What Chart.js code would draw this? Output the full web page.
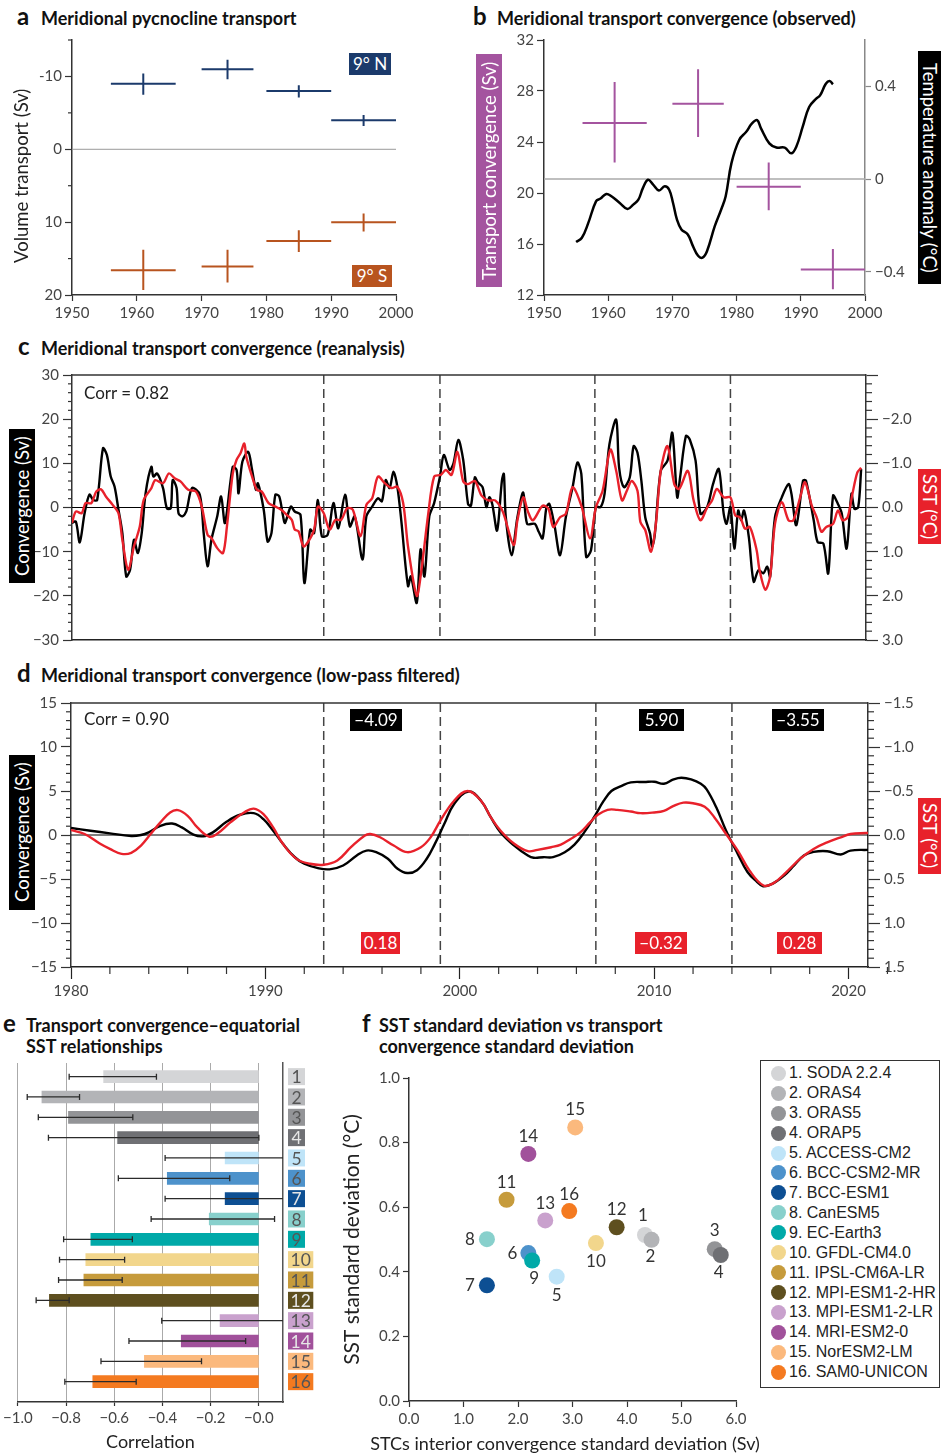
<!DOCTYPE html>
<html>
<head>
<meta charset="utf-8">
<title>STC convergence and equatorial SST</title>
<script src="https://cdn.jsdelivr.net/npm/chart.js"></script>
<style>
  body { margin: 0; background: #fff; font-family: Lato, sans-serif; color: #222; }
  #page { position: relative; width: 941px; height: 1454px; overflow: hidden; }
  canvas { position: absolute; }
  .t { position: absolute; font-weight: 700; font-size: 18px; line-height: 21px; color: #111; white-space: nowrap; }
  .l { position: absolute; font-weight: 700; font-size: 24px; line-height: 26px; color: #111; }
  .vt { position: absolute; font-size: 18.5px; writing-mode: vertical-rl; display: flex; align-items: center; justify-content: center; white-space: nowrap; }
  .up { transform: rotate(180deg); }
  .tag { position: absolute; color: #fff; font-size: 17px; line-height: 22px; height: 22px; text-align: center; }
  .corr { position: absolute; font-size: 17px; color: #222; }
  .xt { position: absolute; font-size: 18px; line-height: 22px; color: #222; text-align: center; white-space: nowrap; }
  #legend { position: absolute; left: 760px; top: 1060px; width: 178px; height: 326px; border: 1px solid #333; }
  .li { position: absolute; left: 28px; font-family: 'Liberation Sans', Arial, sans-serif; font-size: 16px; line-height: 18px; color: #222; white-space: nowrap; }
  .dot { position: absolute; left: 10px; width: 15px; height: 15px; border-radius: 50%; }
</style>
</head>
<body>
<div id="page">
  <div class="l" style="left:17px;top:3px">a</div>
  <div class="t" style="left:41px;top:8px">Meridional pycnocline transport</div>
  <div class="l" style="left:473px;top:3px">b</div>
  <div class="t" style="left:497px;top:8px">Meridional transport convergence (observed)</div>
  <div class="l" style="left:18px;top:333px">c</div>
  <div class="t" style="left:41px;top:338px">Meridional transport convergence (reanalysis)</div>
  <div class="l" style="left:17px;top:660px">d</div>
  <div class="t" style="left:41px;top:665px">Meridional transport convergence (low-pass filtered)</div>
  <div class="l" style="left:3px;top:1010px">e</div>
  <div class="t" style="left:26px;top:1015px">Transport convergence–equatorial<br>SST relationships</div>
  <div class="l" style="left:362px;top:1010px">f</div>
  <div class="t" style="left:379px;top:1015px">SST standard deviation vs transport<br>convergence standard deviation</div>

  <canvas id="ca" width="470" height="330" style="left:0;top:0"></canvas>
  <canvas id="cb" width="471" height="330" style="left:470px;top:0"></canvas>
  <canvas id="cc" width="941" height="300" style="left:0;top:360px"></canvas>
  <canvas id="cd" width="941" height="320" style="left:0;top:690px"></canvas>
  <canvas id="ce" width="330" height="399" style="left:0;top:1055px"></canvas>
  <canvas id="cf" width="430" height="399" style="left:330px;top:1055px"></canvas>

  <div class="vt up" style="left:8px;top:88px;width:26px;height:176px;color:#222">Volume transport (Sv)</div>
  <div class="tag" style="left:349px;top:53px;width:42px;background:#1b3a6b">9° N</div>
  <div class="tag" style="left:352px;top:265px;width:40px;background:#b8541f">9° S</div>

  <div class="vt up" style="left:476px;top:54px;width:26px;height:233px;color:#fff;background:#a4549f">Transport convergence (Sv)</div>
  <div class="vt" style="left:918px;top:51px;width:23px;height:233px;color:#fff;background:#000">Temperature anomaly (°C)</div>

  <div class="vt up" style="left:9px;top:429px;width:26px;height:154px;color:#fff;background:#000">Convergence (Sv)</div>
  <div class="vt" style="left:918px;top:469px;width:23px;height:75px;color:#fff;background:#e8212b">SST (°C)</div>
  <div class="corr" style="left:84px;top:382px">Corr = 0.82</div>

  <div class="vt up" style="left:9px;top:755px;width:26px;height:155px;color:#fff;background:#000">Convergence (Sv)</div>
  <div class="vt" style="left:918px;top:798px;width:23px;height:76px;color:#fff;background:#e8212b">SST (°C)</div>
  <div class="corr" style="left:84px;top:708px">Corr = 0.90</div>
  <div class="tag" style="left:350px;top:709px;width:52px;background:#000">−4.09</div>
  <div class="tag" style="left:639px;top:709px;width:45px;background:#000">5.90</div>
  <div class="tag" style="left:772px;top:709px;width:52px;background:#000">−3.55</div>
  <div class="tag" style="left:361px;top:932px;width:39px;background:#e8212b">0.18</div>
  <div class="tag" style="left:635px;top:932px;width:52px;background:#e8212b">−0.32</div>
  <div class="tag" style="left:777px;top:932px;width:45px;background:#e8212b">0.28</div>

  <div class="xt" style="left:345px;top:1432px;width:440px">STCs interior convergence standard deviation (Sv)</div>
  <div id="legend"></div>
</div>
<script>
// ---- panel a : decadal pycnocline transport at 9N / 9S
const periodStart = [1956, 1970, 1980, 1990];
const periodEnd = [1966, 1978, 1990, 2000];
const southEnd = [1966, 1978, 1990, 2000.5];
const periodMid = [1961, 1974, 1985, 1995];
const northValue = [-9.0, -11.0, -8.0, -4.0];
const northLow = [-10.4, -12.3, -8.8, -4.7];
const northHigh = [-7.5, -9.6, -7.1, -3.2];
const southValue = [16.6, 16.1, 12.6, 10.0];
const southLow = [13.8, 13.8, 11.1, 8.8];
const southHigh = [19.3, 18.3, 14.1, 11.3];

// ---- panel b : observed convergence (crosses) and temperature anomaly
const convObsValue = [25.5, 27.0, 20.5, 14.0];
const convObsLow = [22.4, 24.4, 18.65, 12.45];
const convObsHigh = [28.7, 29.7, 22.4, 15.6];
const tempYears = [1955.0, 1955.9, 1956.9, 1958.1, 1958.8, 1959.7, 1960.5, 1961.8, 1963.0, 1963.9,
  1964.7, 1965.4, 1966.2, 1967.0, 1967.9, 1968.8, 1969.5, 1970.1, 1970.7, 1971.4,
  1972.4, 1973.2, 1974.0, 1974.7, 1975.4, 1976.6, 1977.6, 1978.3, 1979.2, 1980.4,
  1981.5, 1982.4, 1983.2, 1983.8, 1985.1, 1986.2, 1987.5, 1988.5, 1989.3, 1990.3,
  1991.3, 1992.4, 1993.0, 1993.9, 1994.5, 1995.0];
const tempAnomaly = [-0.271, -0.253, -0.189, -0.096, -0.084, -0.064, -0.074, -0.103, -0.129, -0.11,
  -0.089, -0.039, -0.003, -0.024, -0.049, -0.031, -0.046, -0.103, -0.174, -0.217,
  -0.239, -0.289, -0.331, -0.339, -0.31, -0.203, -0.131, -0.074, 0.069, 0.169,
  0.204, 0.24, 0.254, 0.219, 0.154, 0.136, 0.136, 0.111, 0.14, 0.226,
  0.311, 0.347, 0.361, 0.411, 0.423, 0.409];

// ---- panel c : reanalysis convergence (Sv) and SST (degC)
const convReanYears = [1980.0, 1980.2, 1980.4, 1980.65, 1980.9, 1981.1, 1981.3, 1981.6, 1981.8, 1982.0,
  1982.2, 1982.4, 1982.6, 1982.8, 1983.0, 1983.2, 1983.4, 1983.6, 1983.8, 1984.1,
  1984.2, 1984.4, 1984.7, 1984.9, 1985.1, 1985.2, 1985.4, 1985.5, 1985.7, 1985.9,
  1986.2, 1986.6, 1986.8, 1987.0, 1987.2, 1987.5, 1987.7, 1987.9, 1988.3, 1988.5,
  1988.6, 1988.8, 1989.1, 1989.3, 1989.5, 1989.6, 1989.9, 1990.1, 1990.3, 1990.5,
  1990.7, 1990.9, 1991.0, 1991.3, 1991.5, 1991.8, 1992.0, 1992.3, 1992.5, 1992.7,
  1992.9, 1993.2, 1993.5, 1993.75, 1994.1, 1994.35, 1994.6, 1995.0, 1995.2, 1995.5,
  1995.8, 1996.0, 1996.2, 1996.4, 1996.6, 1996.8, 1997.0, 1997.35, 1997.5, 1997.8,
  1998.0, 1998.2, 1998.45, 1998.7, 1999.0, 1999.2, 1999.5, 1999.7, 1999.95, 2000.2,
  2000.45, 2000.6, 2000.8, 2000.95, 2001.2, 2001.4, 2001.55, 2001.7, 2001.95, 2002.2,
  2002.3, 2002.4, 2002.7, 2003.0, 2003.3, 2003.5, 2003.9, 2004.1, 2004.3, 2004.5,
  2004.65, 2004.9, 2005.2, 2005.5, 2005.85, 2006.1, 2006.3, 2006.55, 2006.8, 2007.05,
  2007.3, 2007.5, 2007.75, 2008.1, 2008.25, 2008.5, 2008.8, 2009.0, 2009.2, 2009.4,
  2009.6, 2009.85, 2009.95, 2010.1, 2010.4, 2010.75, 2011.0, 2011.25, 2011.4, 2011.7,
  2011.9, 2012.2, 2012.45, 2012.8, 2013.1, 2013.4, 2013.65, 2013.8, 2014.0, 2014.2,
  2014.4, 2014.55, 2014.7, 2014.95, 2015.2, 2015.45, 2015.7, 2015.9, 2016.05, 2016.3,
  2016.65, 2017.0, 2017.15, 2017.4, 2017.75, 2017.9, 2018.3, 2018.5, 2018.8, 2019.05,
  2019.3, 2019.55, 2019.75, 2020.0, 2020.25, 2020.4, 2020.6, 2020.75];
const convReanValues = [-3.5, -3.2, -7.9, -1.3, 2.9, 1.7, 1.7, 13.4, 11.9, 7.0,
  4.7, -0.5, -5.8, -15.6, -14.1, -7.3, -10.3, -5.8, 3.2, 9.2,
  7.0, 7.7, 4.4, -0.2, -0.2, 6.2, 4.4, -1.3, -2.0, -0.9,
  4.4, 2.9, -5.8, -13.3, -7.3, -2.0, 2.5, -3.5, 9.2, 8.5,
  3.2, 10.4, 12.6, 8.5, 4.0, 5.5, -0.5, -7.7, -5.8, 2.9,
  2.5, -2.0, -3.5, 0.2, -0.9, -1.7, -17.1, -5.0, -5.8, 1.7,
  -6.5, -6.2, 1.0, -4.7, 2.9, -4.3, -2.0, -11.8, -2.0, 0.2,
  2.1, 1.4, 6.2, 4.4, 8.1, 4.7, -2.8, -17.8, -15.6, -21.6,
  -9.5, -15.6, -2.0, 1.0, 7.0, 11.9, 8.5, 10.0, 15.3, 10.8,
  0.8, 0.4, 6.8, 5.7, 4.6, 0.1, 2.3, 0.8, -5.2, 6.1,
  7.6, -2.2, -10.8, -2.2, 3.4, -3.7, -3.7, -5.5, -7.0, 0.1,
  0.8, -3.7, -10.8, -2.2, 4.6, 10.2, 7.6, -11.2, -9.7, 0.1,
  0.1, 3.1, 14.3, 19.9, 9.1, 4.6, 6.8, 13.9, 12.4, 6.1,
  -2.2, -5.9, -8.9, -5.9, 8.3, 10.6, 16.9, 2.3, 6.8, 16.2,
  15.4, 10.6, -1.4, 0.1, 5.3, 8.7, -1.4, -3.7, 0.1, -9.3,
  -0.7, -2.9, -0.7, -6.7, -16.8, -14.2, -14.9, -13.4, -15.7, -2.2,
  2.3, 5.3, 3.1, -4.0, 6.1, 6.1, -2.9, -7.8, -8.2, -14.9,
  2.7, 0.8, -1.4, -9.3, 3.1, -0.3, 0.1, 8.7];
const sstReanYears = [1980.0, 1980.2, 1980.5, 1980.7, 1981.0, 1981.25, 1981.5, 1981.75, 1982.1, 1982.4,
  1982.6, 1982.9, 1983.2, 1983.5, 1983.7, 1984.1, 1984.3, 1984.7, 1985.0, 1985.3,
  1985.6, 1986.0, 1986.4, 1986.7, 1987.0, 1987.2, 1987.5, 1987.8, 1988.0, 1988.3,
  1988.5, 1988.7, 1988.9, 1989.0, 1989.3, 1989.55, 1989.8, 1990.15, 1990.5, 1990.8,
  1991.1, 1991.35, 1991.5, 1991.7, 1991.95, 1992.2, 1992.5, 1992.7, 1993.0, 1993.3,
  1993.6, 1993.9, 1994.2, 1994.5, 1994.9, 1995.2, 1995.5, 1995.8, 1996.15, 1996.5,
  1996.8, 1997.1, 1997.35, 1997.8, 1998.0, 1998.4, 1998.7, 1999.05, 1999.3, 1999.6,
  1999.9, 2000.2, 2000.45, 2000.8, 2001.15, 2001.5, 2001.85, 2002.25, 2002.8, 2003.0,
  2003.3, 2003.55, 2003.8, 2004.3, 2004.6, 2004.85, 2005.2, 2005.5, 2005.85, 2006.3,
  2006.75, 2007.05, 2007.4, 2007.8, 2008.1, 2008.4, 2008.65, 2008.9, 2009.2, 2009.35,
  2009.6, 2009.9, 2010.15, 2010.4, 2010.75, 2011.1, 2011.35, 2011.8, 2012.1, 2012.45,
  2012.8, 2013.05, 2013.3, 2013.65, 2014.0, 2014.25, 2014.5, 2014.75, 2015.0, 2015.35,
  2015.5, 2015.8, 2016.05, 2016.3, 2016.65, 2017.0, 2017.25, 2017.6, 2017.85, 2018.2,
  2018.45, 2018.7, 2018.95, 2019.3, 2019.55, 2019.8, 2020.05, 2020.3, 2020.55, 2020.75];
const sstReanValues = [0.35, 0.09, 0.13, -0.1, -0.1, -0.36, -0.41, -0.25, -0.06, 0.13,
  0.73, 1.41, 0.88, 0.43, -0.17, -0.44, -0.62, -0.55, -0.77, -0.66,
  -0.59, -0.4, -0.36, -0.02, 0.62, 0.69, 0.92, 1.03, 0.43, -0.77,
  -1.08, -1.23, -1.45, -1.15, -0.7, -0.4, -0.36, -0.1, -0.02, 0.05,
  0.17, 0.28, 0.5, 0.54, 0.88, 0.77, 0.5, -0.02, 0.13, 0.5,
  0.28, 0.28, 0.02, 0.05, 0.65, -0.06, -0.21, -0.7, -0.55, -0.44,
  -0.47, -0.1, 0.88, 2.0, 1.56, 0.13, -0.7, -0.74, -0.85, -0.74,
  -1.26, -0.59, -0.53, -0.6, -0.27, -0.16, -0.16, 0.1, 0.85, 0.29,
  -0.23, 0.1, 0.29, -0.04, 0.03, 0.44, 0.22, 0.14, -0.46, -0.04,
  0.7, 0.0, -0.38, -1.31, -0.83, -0.16, -0.38, -0.6, -0.38, 0.33,
  0.51, 1.0, 0.37, -0.83, -1.39, -0.53, -0.42, -0.83, -0.16, 0.29,
  0.0, -0.16, -0.42, -0.23, -0.23, 0.18, 0.22, 0.48, 0.44, 0.96,
  1.41, 1.86, 1.56, 0.37, -0.12, 0.29, 0.29, -0.23, -0.57, -0.04,
  0.22, 0.55, 0.44, 0.37, 0.07, 0.29, 0.22, -0.31, -0.79, -0.9];

// ---- panel d : low-pass filtered convergence (Sv) and SST (degC)
const convLowYears = [1980.0, 1981.0, 1982.0, 1983.1, 1983.6, 1984.0, 1984.6, 1985.2, 1985.7, 1986.3,
  1986.8, 1987.3, 1988.0, 1988.7, 1989.4, 1989.9, 1990.4, 1990.9, 1991.5, 1992.0,
  1992.7, 1993.3, 1994.0, 1994.7, 1995.2, 1995.7, 1996.3, 1996.8, 1997.3, 1997.8,
  1998.3, 1998.7, 1999.2, 1999.7, 2000.45, 2001.1, 2001.6, 2002.1, 2002.8, 2003.5,
  2003.8, 2004.3, 2004.8, 2005.4, 2005.9, 2006.4, 2006.9, 2007.4, 2007.8, 2008.3,
  2008.8, 2009.5, 2010.0, 2010.5, 2011.0, 2011.4, 2011.9, 2012.4, 2012.7, 2013.2,
  2013.7, 2014.3, 2014.8, 2015.3, 2015.6, 2016.1, 2016.7, 2017.2, 2017.7, 2018.2,
  2018.9, 2019.6, 2020.1, 2021.0];
const convLowValues = [0.79, 0.49, 0.19, -0.11, 0.0, 0.3, 1.05, 1.3, 0.86, 0.04,
  -0.15, 0.3, 1.5, 2.3, 2.48, 1.8, 0.49, -1.0, -2.5, -3.27,
  -3.76, -3.9, -3.46, -2.33, -1.77, -1.95, -2.7, -3.83, -4.32, -4.0,
  -2.7, -1.09, 1.24, 3.5, 4.95, 3.87, 1.99, 0.3, -1.2, -2.33,
  -2.59, -2.52, -2.52, -1.95, -1.09, 0.3, 1.99, 3.87, 5.0, 5.56,
  5.98, 6.02, 6.05, 5.83, 6.32, 6.5, 6.32, 5.83, 5.19, 3.12,
  0.49, -2.14, -4.21, -5.34, -5.83, -5.53, -4.59, -3.46, -2.33, -1.92,
  -1.84, -2.22, -1.77, -1.69];
const sstLowYears = [1980.0, 1980.7, 1981.5, 1982.0, 1982.6, 1983.1, 1983.6, 1984.1, 1984.6, 1985.1,
  1985.5, 1986.0, 1986.5, 1987.1, 1987.5, 1988.2, 1988.9, 1989.4, 1989.9, 1990.4,
  1990.9, 1991.6, 1992.3, 1993.0, 1993.7, 1994.4, 1995.1, 1995.4, 1995.9, 1996.6,
  1997.3, 1998.0, 1998.5, 1999.0, 1999.7, 2000.4, 2001.1, 2001.6, 2002.1, 2002.8,
  2003.5, 2004.0, 2004.7, 2005.2, 2005.7, 2006.2, 2006.7, 2007.1, 2007.6, 2008.1,
  2008.8, 2009.3, 2010.0, 2010.5, 2011.0, 2011.5, 2012.0, 2012.6, 2013.1, 2013.7,
  2014.3, 2014.9, 2015.6, 2016.1, 2016.8, 2017.5, 2018.2, 2018.9, 2019.6, 2020.1,
  2020.9, 2021.0];
const sstLowValues = [-0.056, -0.011, 0.10, 0.158, 0.214, 0.203, 0.12, -0.011, -0.143, -0.256,
  -0.282, -0.218, -0.086, 0.019, -0.011, -0.143, -0.256, -0.30, -0.237, -0.086,
  0.10, 0.271, 0.327, 0.338, 0.289, 0.139, 0.008, -0.011, 0.026, 0.12,
  0.195, 0.139, 0.026, -0.162, -0.387, -0.5, -0.387, -0.2, -0.049, 0.10,
  0.184, 0.169, 0.139, 0.109, 0.045, -0.03, -0.143, -0.229, -0.286, -0.286,
  -0.267, -0.248, -0.256, -0.274, -0.331, -0.368, -0.361, -0.32, -0.2, -0.011,
  0.177, 0.402, 0.571, 0.553, 0.421, 0.271, 0.158, 0.083, 0.026, -0.011,
  -0.023, -0.023];
const shiftYears = [1993, 1999, 2007, 2014];

// ---- panels e, f : models
const modelIds = [1, 2, 3, 4, 5, 6, 7, 8, 9, 10, 11, 12, 13, 14, 15, 16];
const modelNames = ['SODA 2.2.4', 'ORAS4', 'ORAS5', 'ORAP5', 'ACCESS-CM2', 'BCC-CSM2-MR', 'BCC-ESM1', 'CanESM5',
  'EC-Earth3', 'GFDL-CM4.0', 'IPSL-CM6A-LR', 'MPI-ESM1-2-HR', 'MPI-ESM1-2-LR', 'MRI-ESM2-0', 'NorESM2-LM', 'SAM0-UNICON'];
const modelColors = ['#d4d5d7', '#b3b4b7', '#939497', '#6f7074', '#bfe4f8', '#4d92cb', '#0d4f93', '#88d0cc',
  '#00a9a8', '#f2d68c', '#c69b3c', '#5e4f1f', '#c9a1cd', '#a1519b', '#fbb97d', '#f47a20'];
const corrValue = [-0.644, -0.90, -0.79, -0.586, -0.14, -0.38, -0.14, -0.206, -0.697, -0.718, -0.726, -0.869, -0.161, -0.322, -0.475, -0.689];
const corrLow = [-0.787, -0.961, -0.915, -0.873, -0.389, -0.583, -0.389, -0.447, -0.81, -0.827, -0.831, -0.924, -0.403, -0.539, -0.655, -0.805];
const corrHigh = [-0.425, -0.744, -0.523, 0.0, 0.15, -0.121, 0.15, 0.065, -0.525, -0.557, -0.567, -0.787, 0.15, -0.055, -0.238, -0.509];
const stdConv = [4.33, 4.45, 5.61, 5.72, 2.71, 2.19, 1.43, 1.43, 2.26, 3.43, 1.79, 3.81, 2.50, 2.19, 3.05, 2.94];
const stdSst = [0.514, 0.499, 0.470, 0.452, 0.385, 0.458, 0.358, 0.501, 0.435, 0.489, 0.623, 0.538, 0.559, 0.765, 0.847, 0.588];
// label offsets (px) for the numbers next to the dots
const labelDx = [-2, -1, 0, -2, 0, -16, -17, -17, 2, 0, 0, 0, 0, 0, 0, 0];
const labelDy = [-19, 17, -19, 18, 19, 0, 0, 0, 18, 18, -17, -18, -17, -17, -18, -17];

Chart.defaults.font.family = 'Lato, sans-serif';
Chart.defaults.font.size = 15;
Chart.defaults.color = '#444';
Chart.defaults.animation = false;
Chart.defaults.plugins.legend.display = false;
Chart.defaults.plugins.tooltip.enabled = false;

function fmt(v, d) {
  return (v < 0 ? '\u2212' : '') + Math.abs(v).toFixed(d);
}
function range(a, b, s) {
  const out = [];
  const n = Math.round((b - a) / s);
  for (let i = 0; i <= n; i++) out.push(+(a + i * s).toFixed(4));
  return out;
}
function pairs(xs, ys) {
  return xs.map((x, i) => ({ x: x, y: ys[i] }));
}
function crossData(start, end, mid, val, lo, hi) {
  const d = [];
  for (let i = 0; i < val.length; i++) {
    d.push({ x: start[i], y: val[i] }, { x: end[i], y: val[i] }, { x: end[i], y: null });
    d.push({ x: mid[i], y: lo[i] }, { x: mid[i], y: hi[i] }, { x: mid[i], y: null });
  }
  return d;
}

function axis(o) {
  const vertical = o.pos === 'left' || o.pos === 'right';
  return {
    type: 'linear', position: o.pos, min: o.min, max: o.max, reverse: !!o.reverse,
    afterBuildTicks: s => { s.ticks = o.ticks.map(v => ({ value: v })); },
    afterFit: s => { if (vertical) s.width = o.size; else s.height = o.size; },
    ticks: { display: o.labels !== false, callback: o.fmt, padding: o.pad || 3, color: '#444', font: { size: 15 }, maxRotation: 0, autoSkip: false },
    grid: { drawOnChartArea: !!o.grid, color: '#aaa', lineWidth: 1, drawTicks: !!o.tickLen, tickLength: o.tickLen || 0, tickColor: o.border || '#333', tickWidth: 1.2 },
    border: { display: true, color: o.border || '#333', width: o.bw || 1.5 },
    title: o.title || { display: false }
  };
}

function extras(cfg) {
  return {
    id: 'extras',
    beforeDatasetsDraw(chart) {
      const ctx = chart.ctx, area = chart.chartArea;
      ctx.save();
      (cfg.hlines || []).forEach(h => {
        const y = chart.scales[h.scale].getPixelForValue(h.value);
        ctx.strokeStyle = h.color; ctx.lineWidth = h.width;
        ctx.beginPath(); ctx.moveTo(area.left, y); ctx.lineTo(area.right, y); ctx.stroke();
      });
      (cfg.vlines || []).forEach(v => {
        const x = chart.scales.x.getPixelForValue(v);
        ctx.strokeStyle = '#444'; ctx.lineWidth = 1.5; ctx.setLineDash([9, 5]);
        ctx.beginPath(); ctx.moveTo(x, area.top); ctx.lineTo(x, area.bottom); ctx.stroke();
      });
      ctx.restore();
    },
    afterDraw(chart) {
      const ctx = chart.ctx, area = chart.chartArea;
      ctx.save();
      if (cfg.frame) {
        ctx.strokeStyle = '#333'; ctx.lineWidth = 1.5;
        ctx.beginPath(); ctx.moveTo(area.left, area.top); ctx.lineTo(area.right, area.top); ctx.stroke();
      }
      ctx.strokeStyle = '#333'; ctx.lineWidth = 1.2;
      (cfg.minor || []).forEach(m => {
        const s = chart.scales[m.scale];
        const major = s.ticks.map(t => t.value);
        range(s.min, s.max, m.step).forEach(v => {
          if (major.some(t => Math.abs(t - v) < m.step / 10)) return;
          const p = s.getPixelForValue(v);
          ctx.beginPath();
          if (s.position === 'left') { ctx.moveTo(area.left, p); ctx.lineTo(area.left - m.len, p); }
          else if (s.position === 'right') { ctx.moveTo(area.right, p); ctx.lineTo(area.right + m.len, p); }
          else { ctx.moveTo(p, area.bottom); ctx.lineTo(p, area.bottom + m.len); }
          ctx.stroke();
        });
      });
      ctx.restore();
    }
  };
}

const baseOpts = { responsive: false, devicePixelRatio: 1, maintainAspectRatio: false };

// ---------- a
new Chart(document.getElementById('ca'), {
  type: 'line',
  data: {
    datasets: [
      { data: crossData(periodStart, periodEnd, periodMid, northValue, northLow, northHigh), borderColor: '#1b3a6b', borderWidth: 2, pointRadius: 0 },
      { data: crossData(periodStart, southEnd, periodMid, southValue, southLow, southHigh), borderColor: '#b8541f', borderWidth: 2, pointRadius: 0 }
    ]
  },
  options: Object.assign({}, baseOpts, {
    layout: { padding: { top: 40, right: 74, left: 0, bottom: 0 } },
    scales: {
      x: axis({ pos: 'bottom', min: 1950, max: 2000, ticks: range(1950, 2000, 10), fmt: v => String(v), size: 35, tickLen: 6 }),
      y: axis({ pos: 'left', min: -15, max: 20, reverse: true, ticks: [-10, 0, 10, 20], fmt: v => (v < 0 ? '-' : '') + Math.abs(v), size: 72, tickLen: 7 })
    }
  }),
  plugins: [extras({ hlines: [{ scale: 'y', value: 0, color: '#999', width: 1 }], minor: [{ scale: 'y', step: 5, len: 4 }] })]
});

// ---------- b
new Chart(document.getElementById('cb'), {
  type: 'line',
  data: {
    datasets: [
      { data: pairs(tempYears, tempAnomaly), yAxisID: 'y2', borderColor: '#000', borderWidth: 2.5, pointRadius: 0, tension: 0.4 },
      { data: crossData(periodStart, periodEnd, periodMid, convObsValue, convObsLow, convObsHigh), yAxisID: 'y', borderColor: '#a4549f', borderWidth: 2, pointRadius: 0 }
    ]
  },
  options: Object.assign({}, baseOpts, {
    layout: { padding: { top: 40, right: 0, left: 0, bottom: 0 } },
    scales: {
      x: axis({ pos: 'bottom', min: 1950, max: 2000, ticks: range(1950, 2000, 10), fmt: v => String(v), size: 35, tickLen: 6 }),
      y: axis({ pos: 'left', min: 12, max: 32, ticks: range(12, 32, 4), fmt: v => String(v), size: 74, tickLen: 7 }),
      y2: axis({ pos: 'right', min: -0.5, max: 0.6, ticks: [-0.4, 0, 0.4], fmt: v => v === 0 ? '0' : fmt(v, 1), size: 76, tickLen: 6, border: '#888', pad: 4 })
    }
  }),
  plugins: [extras({ hlines: [{ scale: 'y2', value: 0, color: '#aaa', width: 1.5 }] })]
});

// ---------- c
new Chart(document.getElementById('cc'), {
  type: 'line',
  data: {
    datasets: [
      { data: pairs(sstReanYears, sstReanValues), yAxisID: 'y2', borderColor: '#e8212b', borderWidth: 2.4, pointRadius: 0, tension: 0.3 },
      { data: pairs(convReanYears, convReanValues), yAxisID: 'y', borderColor: '#000', borderWidth: 2.4, pointRadius: 0, tension: 0.3 }
    ]
  },
  options: Object.assign({}, baseOpts, {
    layout: { padding: { top: 15, right: 0, left: 0, bottom: 0 } },
    scales: {
      x: axis({ pos: 'bottom', min: 1980, max: 2021, ticks: [], labels: false, size: 20, border: '#222' }),
      y: axis({ pos: 'left', min: -30, max: 30, ticks: range(-30, 30, 10), fmt: v => fmt(v, 0), size: 72, tickLen: 9, pad: 4 }),
      y2: axis({ pos: 'right', min: -3, max: 3, reverse: true, ticks: range(-3, 3, 1), fmt: v => v === -3 ? '' : fmt(v, 1), size: 75, tickLen: 12, pad: 4 })
    }
  }),
  plugins: [extras({
    frame: true, vlines: shiftYears,
    hlines: [{ scale: 'y', value: 0, color: '#000', width: 1 }],
    minor: [{ scale: 'y', step: 2, len: 4 }, { scale: 'y2', step: 0.2, len: 6 }]
  })]
});

// ---------- d
new Chart(document.getElementById('cd'), {
  type: 'line',
  data: {
    datasets: [
      { data: pairs(sstLowYears, sstLowValues), yAxisID: 'y2', borderColor: '#e8212b', borderWidth: 2.4, pointRadius: 0, tension: 0.4 },
      { data: pairs(convLowYears, convLowValues), yAxisID: 'y', borderColor: '#000', borderWidth: 2.4, pointRadius: 0, tension: 0.4 }
    ]
  },
  options: Object.assign({}, baseOpts, {
    layout: { padding: { top: 13, right: 0, left: 0, bottom: 0 } },
    scales: {
      x: axis({ pos: 'bottom', min: 1980, max: 2021, ticks: range(1980, 2020, 10), fmt: v => String(v), size: 43, tickLen: 12, border: '#222' }),
      y: axis({ pos: 'left', min: -15, max: 15, ticks: range(-15, 15, 5), fmt: v => fmt(v, 0), size: 71, tickLen: 10, pad: 4 }),
      y2: axis({ pos: 'right', min: -1.5, max: 1.5, reverse: true, ticks: range(-1.5, 1.5, 0.5), fmt: v => fmt(v, 1), size: 73, tickLen: 12, pad: 4 })
    }
  }),
  plugins: [extras({
    frame: true, vlines: shiftYears,
    hlines: [{ scale: 'y', value: 0, color: '#000', width: 1 }],
    minor: [{ scale: 'y', step: 1, len: 5 }, { scale: 'y2', step: 0.1, len: 6 }, { scale: 'x', step: 2, len: 7 }]
  })]
});

// ---------- e
function isDark(hex) {
  const r = parseInt(hex.slice(1, 3), 16), g = parseInt(hex.slice(3, 5), 16), b = parseInt(hex.slice(5, 7), 16);
  return (0.299 * r + 0.587 * g + 0.114 * b) / 255 < 0.45;
}
const corrPlugin = {
  id: 'corrBars',
  afterDatasetsDraw(chart) {
    const ctx = chart.ctx, area = chart.chartArea, xs = chart.scales.x, ys = chart.scales.y;
    ctx.save();
    ctx.strokeStyle = '#2b2b2b'; ctx.lineWidth = 1.3;
    modelIds.forEach((id, i) => {
      const y = ys.getPixelForValue(id);
      const x1 = xs.getPixelForValue(corrLow[i]);
      const raw = xs.getPixelForValue(corrHigh[i]);
      const x2 = Math.min(raw, area.right);
      ctx.beginPath();
      ctx.moveTo(x1, y); ctx.lineTo(x2, y);
      ctx.moveTo(x1, y - 3); ctx.lineTo(x1, y + 3);
      if (raw <= area.right) { ctx.moveTo(x2, y - 3); ctx.lineTo(x2, y + 3); }
      ctx.stroke();
    });
    ctx.restore();
  },
  afterDraw(chart) {
    const ctx = chart.ctx, area = chart.chartArea, ys = chart.scales.y;
    ctx.save();
    ctx.font = '17.5px Lato, sans-serif';
    ctx.textAlign = 'center'; ctx.textBaseline = 'middle';
    modelIds.forEach((id, i) => {
      const y = ys.getPixelForValue(id);
      const label = String(id);
      const w = Math.max(17, ctx.measureText(label).width + 5);
      const x = area.right + 5;
      ctx.fillStyle = modelColors[i];
      ctx.fillRect(x, y - 8.5, w, 17);
      ctx.fillStyle = isDark(modelColors[i]) ? '#e6e6e6' : '#555';
      ctx.fillText(label, x + w / 2, y + 1);
    });
    ctx.restore();
  }
};
new Chart(document.getElementById('ce'), {
  type: 'bar',
  data: {
    datasets: [{
      data: modelIds.map((id, i) => ({ x: corrValue[i], y: id })),
      backgroundColor: modelColors, borderWidth: 0, barThickness: 12
    }]
  },
  options: Object.assign({}, baseOpts, {
    indexAxis: 'y',
    layout: { padding: { top: 8, right: 0, left: 17, bottom: 0 } },
    scales: {
      x: axis({ pos: 'bottom', min: -1, max: 0.1, ticks: range(-1, 0, 0.2), fmt: v => '\u2212' + Math.abs(v).toFixed(1), size: 52, tickLen: 4, grid: true,
        title: { display: true, text: 'Correlation', color: '#222', font: { size: 18 }, padding: { top: 0, bottom: 1 } } }),
      y: axis({ pos: 'right', min: 0.33, max: 17, reverse: true, ticks: [], labels: false, size: 47, border: '#555' })
    }
  }),
  plugins: [corrPlugin]
});

// ---------- f
const dotLabels = {
  id: 'dotLabels',
  afterDatasetsDraw(chart) {
    const ctx = chart.ctx, xs = chart.scales.x, ys = chart.scales.y;
    ctx.save();
    ctx.font = '17px Lato, sans-serif';
    ctx.fillStyle = '#333';
    ctx.textAlign = 'center'; ctx.textBaseline = 'middle';
    modelIds.forEach((id, i) => {
      ctx.fillText(String(id), xs.getPixelForValue(stdConv[i]) + labelDx[i], ys.getPixelForValue(stdSst[i]) + labelDy[i]);
    });
    ctx.restore();
  }
};
new Chart(document.getElementById('cf'), {
  type: 'scatter',
  data: {
    datasets: [{
      data: pairs(stdConv, stdSst),
      pointBackgroundColor: modelColors, pointBorderWidth: 0, pointRadius: 8
    }]
  },
  options: Object.assign({}, baseOpts, {
    layout: { padding: { top: 23, right: 24, left: 0, bottom: 0 } },
    scales: {
      x: axis({ pos: 'bottom', min: 0, max: 6, ticks: range(0, 6, 1), fmt: v => v.toFixed(1), size: 53, tickLen: 6 }),
      y: axis({ pos: 'left', min: 0, max: 1, ticks: range(0, 1, 0.2), fmt: v => v.toFixed(1), size: 79, tickLen: 6,
        title: { display: true, text: 'SST standard deviation (°C)', color: '#222', font: { size: 21 }, padding: { top: 10, bottom: 0 } } })
    }
  }),
  plugins: [dotLabels]
});

// ---------- legend for e / f
const legend = document.getElementById('legend');
modelNames.forEach((name, i) => {
  const top = 12.3 + i * 19.93;
  const dot = document.createElement('div');
  dot.className = 'dot';
  dot.style.top = (top - 7.5) + 'px';
  dot.style.background = modelColors[i];
  legend.appendChild(dot);
  const txt = document.createElement('div');
  txt.className = 'li';
  txt.style.top = (top - 9) + 'px';
  txt.textContent = modelIds[i] + '. ' + name;
  legend.appendChild(txt);
});
</script>
</body>
</html>
